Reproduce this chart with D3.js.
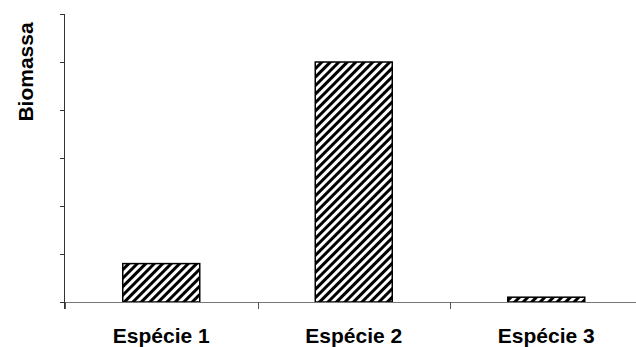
<!DOCTYPE html>
<html><head><meta charset="utf-8">
<script src="https://cdn.jsdelivr.net/npm/d3@7"></script>
<style>html,body{margin:0;padding:0;background:#fff;}svg{display:block;}</style>
</head><body>
<script>
const categories = ["Espécie 1", "Espécie 2", "Espécie 3"];
const values = [0.8, 5.0, 0.1];
const yTicks = [0, 1, 2, 3, 4, 5, 6];
const yLabel = "Biomassa";

const W = 636, H = 347;
const mLeft = 65, mRight = 642.5, mTop = 14, mBottom = 302;

const svg = d3.select("body").append("svg").attr("width", W).attr("height", H);
const defs = svg.append("defs");
const pat = defs.append("pattern").attr("id", "hatch")
  .attr("patternUnits", "userSpaceOnUse").attr("width", 6).attr("height", 10)
  .attr("patternTransform", "rotate(45)");
pat.append("rect").attr("width", 6).attr("height", 10).attr("fill", "#fff");
pat.append("rect").attr("x", 0).attr("width", 3).attr("height", 10).attr("fill", "#000");

const x = d3.scaleBand().domain(categories).range([mLeft, mRight]).paddingInner(0.6).paddingOuter(0.3);
const y = d3.scaleLinear().domain([0, 6]).range([mBottom, mTop]);

// bars
svg.selectAll("rect.bar").data(values).enter().append("rect")
  .attr("class", "bar")
  .attr("x", (d, i) => x(categories[i]))
  .attr("y", d => y(d))
  .attr("width", x.bandwidth())
  .attr("height", d => y(0) - y(d))
  .attr("fill", "url(#hatch)")
  .attr("stroke", "#000").attr("stroke-width", 1.5);

// y axis
const ya = svg.append("g").attr("transform", `translate(${mLeft},0)`)
  .call(d3.axisLeft(y).tickValues(yTicks).tickSize(5).tickFormat(""));
ya.select(".domain").attr("stroke", "#333").attr("d", `M-0.5,${mTop}V${mBottom+7}`);
ya.selectAll(".tick line").attr("stroke", "#333");

// x axis: category boundary ticks
const step = x.step();
const boundaries = d3.range(categories.length + 1).map(i => mLeft + i * step);
const xg = svg.append("g");
xg.append("line").attr("x1", mLeft).attr("x2", mRight).attr("y1", mBottom + 0.5).attr("y2", mBottom + 0.5)
  .attr("stroke", "#777").attr("stroke-width", 1.2);
xg.selectAll("line.bt").data(boundaries).enter().append("line")
  .attr("class", "bt")
  .attr("x1", d => Math.round(d) + 0.5).attr("x2", d => Math.round(d) + 0.5)
  .attr("y1", mBottom).attr("y2", mBottom + 7)
  .attr("stroke", "#555");

xg.selectAll("text").data(categories).enter().append("text")
  .attr("x", d => x(d) + x.bandwidth() / 2)
  .attr("y", 343)
  .attr("text-anchor", "middle")
  .attr("font-family", "Liberation Sans, Arial, sans-serif")
  .attr("font-weight", "bold").attr("font-size", 21)
  .attr("fill", "#000")
  .text(d => d);

svg.append("text")
  .attr("transform", "translate(33,72) rotate(-90)")
  .attr("text-anchor", "middle")
  .attr("font-family", "Liberation Sans, Arial, sans-serif")
  .attr("font-weight", "bold").attr("font-size", 21)
  .attr("fill", "#000")
  .text(yLabel);
</script>
</body></html>
